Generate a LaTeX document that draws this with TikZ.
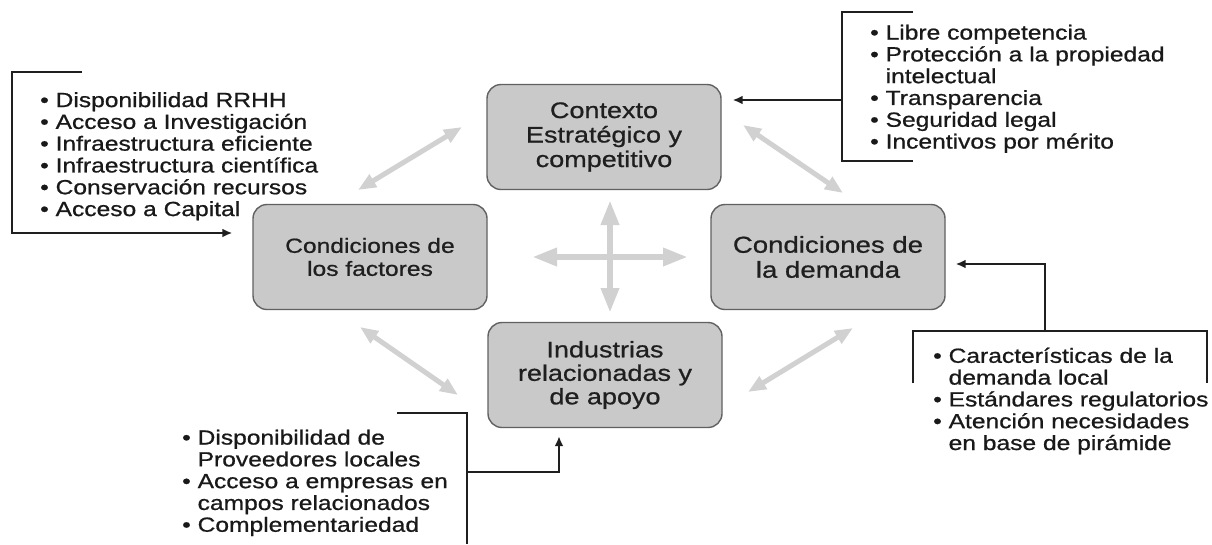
\documentclass[tikz,border=0pt]{standalone}
\usepackage{fontspec}
\setmainfont[FakeStretch=1.2,FakeBold=0.8]{Liberation Sans}
\usetikzlibrary{arrows.meta,positioning,calc}

\newcommand\sangria{\hphantom{• }}

\tikzset{
  factor/.style={draw=black!62, line width=1.4pt, fill=black!21, rounded corners=14pt,
    minimum width=234pt, minimum height=105pt, align=center, text=black!88,
    font=\fontsize{22.5}{24.5}\selectfont},
  lista/.style={anchor=north west, inner sep=0pt, align=left, text=black!90,
    font=\fontsize{20.5}{21.8}\selectfont},
  flecha/.style={draw=black!18, line width=6.5pt,
    {Triangle[length=25pt,width=17pt]}-{Triangle[length=25pt,width=17pt]}},
  flechadiag/.style={draw=black!18, line width=5pt,
    {Triangle[length=18pt,width=14pt]}-{Triangle[length=18pt,width=14pt]}},
  enlace/.style={draw=black!88, line width=2.4pt},
  punta/.style={-{Latex[length=10pt,width=9pt]}},
}

\begin{document}
\begin{tikzpicture}[x=1pt,y=-1pt]
  \useasboundingbox (0,0) rectangle (1212,544);

  % the four boxes of the diamond
  \node[factor] at (604,137) (ctx) {Contexto\\Estratégico y\\competitivo};
  \node[factor, font=\fontsize{20.5}{23}\selectfont] at (370,257) (fac) {Condiciones de\\los factores};
  \node[factor, font=\fontsize{23}{25}\selectfont] at (828,257) (dem) {Condiciones de\\la demanda};
  \node[factor, font=\fontsize{22.5}{23.5}\selectfont] at (605,375) (ind) {Industrias\\relacionadas y\\de apoyo};

  % grey two-way arrows
  \coordinate (hIzq) at (532,257);
  \coordinate (hDer) at (688,257);
  \coordinate (vArr) at (610,200);
  \coordinate (vAba) at (610,313);
  \draw[flecha] (hIzq) -- (hDer);
  \draw[flecha] (vArr) -- (vAba);

  \coordinate (tl1) at (358,190);
  \coordinate (tl2) at (462,127);
  \coordinate (tr1) at (743,125);
  \coordinate (tr2) at (843,193);
  \coordinate (bl1) at (360,327);
  \coordinate (bl2) at (458,395);
  \coordinate (br1) at (748,392);
  \coordinate (br2) at (853,328);
  \draw[flechadiag] (tl1) -- (tl2);
  \draw[flechadiag] (tr1) -- (tr2);
  \draw[flechadiag] (bl1) -- (bl2);
  \draw[flechadiag] (br1) -- (br2);

  % lists
  \node[lista] at (40,92) (lfac) {• Disponibilidad RRHH\\• Acceso a Investigación\\• Infraestructura eficiente\\• Infraestructura científica\\• Conservación recursos\\• Acceso a Capital};
  \node[lista] at (870,24.5) (lctx) {• Libre competencia\\• Protección a la propiedad\\\sangria intelectual\\• Transparencia\\• Seguridad legal\\• Incentivos por mérito};
  \node[lista] at (933,347.5) (ldem) {• Características de la\\\sangria demanda local\\• Estándares regulatorios\\• Atención necesidades\\\sangria en base de pirámide};
  \node[lista] at (182,429.5) (lind) {• Disponibilidad de\\\sangria Proveedores locales\\• Acceso a empresas en\\\sangria campos relacionados\\• Complementariedad};

  % brackets and black arrows
  \coordinate (fa) at (82,72);
  \coordinate (fb) at (12,72);
  \coordinate (fc) at (12,233);
  \draw[enlace, punta] (fa) -- (fb) -- (fc) -- ([xshift=-20pt]fac.west |- fc);

  \coordinate (ca) at (913,12);
  \coordinate (cb) at (842,12);
  \coordinate (cc) at (842,161);
  \coordinate (cd) at (913,161);
  \coordinate (cm) at (842,100);
  \draw[enlace] (ca) -- (cb) -- (cc) -- (cd);
  \draw[enlace, punta] (cm) -- ([xshift=11pt]ctx.east |- cm);

  \coordinate (da) at (913,383);
  \coordinate (db) at (1207,383);
  \coordinate (dm) at (1045,331);
  \coordinate (dn) at (1045,264);
  \draw[enlace] (da) |- (dm) -| (db);
  \draw[enlace, punta] (dm) -- (dn) -- ([xshift=10pt]dem.east |- dn);

  \coordinate (ia) at (397,413);
  \coordinate (ib) at (467,413);
  \coordinate (ic) at (467,544);
  \coordinate (im) at (467,472);
  \draw[enlace] (ia) -- (ib) -- (ic);
  \draw[enlace, punta] (im) -| ([xshift=-46pt,yshift=-8pt]ind.south);
\end{tikzpicture}
\end{document}
